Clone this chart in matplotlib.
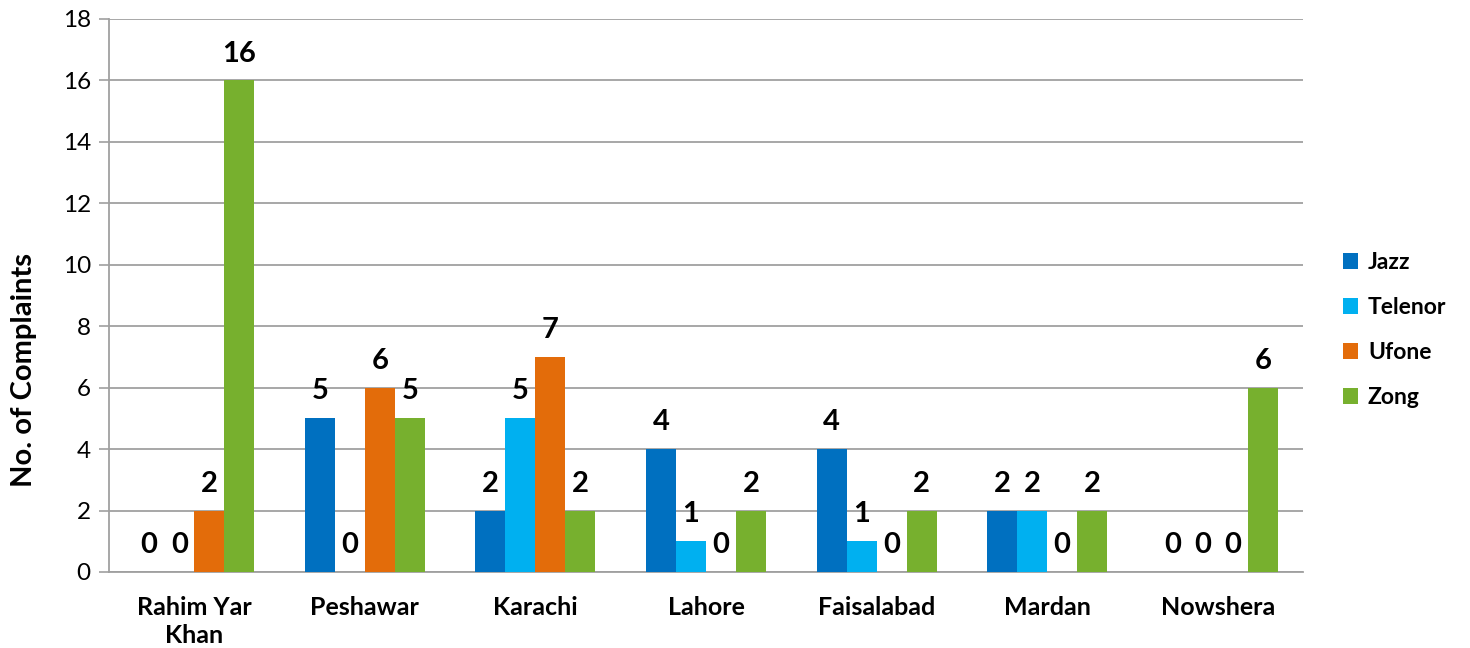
import numpy as np
import matplotlib.pyplot as plt

plt.rcParams['font.family'] = ['Lato', 'DejaVu Sans']

cities = ['Rahim Yar\nKhan', 'Peshawar', 'Karachi', 'Lahore', 'Faisalabad', 'Mardan', 'Nowshera']
operators = ['Jazz', 'Telenor', 'Ufone', 'Zong']
jazz = [0, 5, 2, 4, 4, 2, 0]
telenor = [0, 0, 5, 1, 1, 2, 0]
ufone = [2, 6, 7, 0, 0, 0, 0]
zong = [16, 5, 2, 2, 2, 2, 6]
colors = ['#0070C0', '#00B0F0', '#E36C0A', '#77B02E']

series = [jazz, telenor, ufone, zong]

fig = plt.figure(figsize=(14.7, 6.48), dpi=100)
ax = fig.add_axes([0.0741, 0.1173, 0.8123, 0.8534])

x = np.arange(len(cities))
w = 0.176
for i, (vals, name, c) in enumerate(zip(series, operators, colors)):
    pos = x + (i - 1.5) * w
    bars = ax.bar(pos, vals, w, color=c, label=name, zorder=3)
    for b, v in zip(bars, vals):
        ax.annotate(str(v), (b.get_x() + b.get_width() / 2, v), xytext=(0, 10),
                    textcoords='offset points', ha='center', va='bottom',
                    fontsize=21, fontweight='bold')

ax.set_xlim(-0.5, len(cities) - 0.5)
ax.set_ylim(0, 18)
ax.set_yticks(range(0, 19, 2))
ax.set_xticks(x)
ax.set_xticklabels(cities, fontsize=18, fontweight='bold', linespacing=1.3)
ax.tick_params(axis='x', length=0, pad=17)
ax.tick_params(axis='y', labelsize=17.5, length=7, color='#A0A0A0', width=1.2, pad=6)
ax.grid(axis='y', color='#A0A0A0', lw=1.3, zorder=0)
for s in ['top', 'right']:
    ax.spines[s].set_visible(False)
for s in ['left', 'bottom']:
    ax.spines[s].set_color('#A0A0A0')
    ax.spines[s].set_linewidth(1.3)
ax.set_ylabel('No. of Complaints', fontsize=21, fontweight='bold', labelpad=14)
ax.yaxis.set_label_coords(-0.06, 0.365)

leg = ax.legend(loc='center left', bbox_to_anchor=(1.016, 0.4376), frameon=False,
                prop={'size': 16.5, 'weight': 'bold'}, handlelength=0.65, handleheight=0.65,
                handletextpad=0.45, labelspacing=1.05)

fig.savefig('out.png', dpi=100)
